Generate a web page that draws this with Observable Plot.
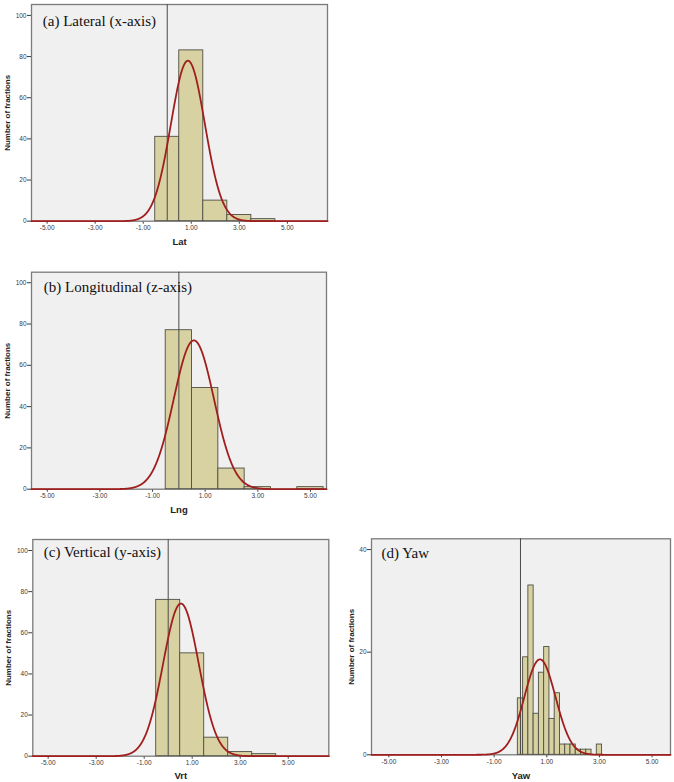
<!DOCTYPE html>
<html><head><meta charset="utf-8">
<script src="https://cdn.jsdelivr.net/npm/d3@7"></script>
<script src="https://cdn.jsdelivr.net/npm/@observablehq/plot@0.6"></script>
<style>
body{margin:0;background:#fff;}
#wrap{position:relative;width:674px;height:782px;overflow:hidden;}
#wrap svg{position:absolute;}
</style></head><body><div id="wrap"></div>
<script>
// ---- data ----
// (a) Lateral
const latBins = [0, 1, 2, 3, 4];
const latCounts = [41, 83, 10, 3, 1];
const latBinWidth = 1;
const latMean = 0.86, latSD = 0.706;
// (b) Longitudinal
const lngBins = [0, 1, 2, 3, 5];
const lngCounts = [77, 49, 10, 1, 1];
const lngBinWidth = 1;
const lngMean = 0.57, lngSD = 0.764;
// (c) Vertical
const vrtBins = [0, 1, 2, 3, 4];
const vrtCounts = [76, 50, 9, 2, 1];
const vrtBinWidth = 1;
const vrtMean = 0.53, vrtSD = 0.742;
// (d) Yaw
const yawBins = [0, 0.2, 0.4, 0.6, 0.8, 1.0, 1.2, 1.4, 1.6, 1.8, 2.0, 2.2, 2.4, 2.6, 2.8, 3.0];
const yawCounts = [11, 19, 33, 8, 16, 21, 7, 12, 2, 2, 2, 1, 1, 1, 0, 2];
const yawBinWidth = 0.2;
const yawMean = 0.74, yawSD = 0.592;

const xTicks = [-5, -3, -1, 1, 3, 5];
const yTicksMain = [0, 20, 40, 60, 80, 100];
const yTicksYaw = [0, 20, 40];

const panelTitles = ["(a) Lateral (x-axis)", "(b) Longitudinal (z-axis)", "(c) Vertical (y-axis)", "(d) Yaw"];
const xLabels = ["Lat", "Lng", "Vrt", "Yaw"];
const yLabel = "Number of fractions";

// ---- styles ----
const bgFill = "#f0f0f0", frameStroke = "#7a7a7a", barFill = "#d8d2a2", barStroke = "#4e4e46",
      curveColor = "#a11e1e", zeroColor = "#4a4a4a";

function panel(o) {
  const rows = o.bins.map((c, i) => ({x1: c - o.bw / 2, x2: c + o.bw / 2, y: o.counts[i]}));
  const n = d3.sum(o.counts);
  const fit = d3.range(o.xDomain[0], o.xDomain[1] + 0.01, 0.01).map(x => ({
    x, y: n * o.bw * Math.exp(-0.5 * ((x - o.mean) / o.sd) ** 2) / (o.sd * Math.sqrt(2 * Math.PI))
  }));
  const svg = Plot.plot({
    width: o.width, height: o.height,
    marginLeft: o.ml, marginRight: o.mr, marginTop: o.mt, marginBottom: o.mb,
    style: {fontFamily: "'Liberation Sans', Arial, sans-serif", fontSize: "6.5px", color: "#3a3a3a", background: "transparent"},
    x: {domain: o.xDomain, ticks: xTicks, tickFormat: d => d.toFixed(2), tickSize: 3, tickPadding: 1.5, label: null},
    y: {domain: o.yDomain, ticks: o.yTicks, tickSize: 4, tickPadding: 1, label: null},
    marks: [
      Plot.frame({fill: bgFill}),
      Plot.frame({stroke: frameStroke, strokeWidth: 1.3}),
      Plot.rectY(rows, {x1: "x1", x2: "x2", y: "y", fill: barFill, stroke: barStroke, strokeWidth: 0.9}),
      Plot.ruleX([0], {stroke: zeroColor, strokeWidth: 1}),
      Plot.line(fit, {x: "x", y: "y", stroke: curveColor, strokeWidth: 1.8}),
      Plot.text([o.title], {frameAnchor: "top-left", dx: o.tdx, dy: o.tdy, textAnchor: "start", lineAnchor: "bottom",
        fontFamily: "'Liberation Serif', 'Times New Roman', serif", fontSize: 15, fill: "#111"}),
      Plot.text([o.xLabel], {frameAnchor: "bottom", dy: o.xldy, lineAnchor: "middle", fontWeight: "bold", fontSize: 9.5, fill: "#222"}),
      Plot.text([yLabel], {frameAnchor: "left", dx: -o.yldx, rotate: -90, lineAnchor: "middle", textAnchor: "middle", fontWeight: "bold", fontSize: 8, fill: "#222"})
    ]
  });
  svg.style.left = o.left + "px";
  svg.style.top = o.top + "px";
  return svg;
}

const wrap = document.getElementById("wrap");
wrap.appendChild(panel({
  bins: latBins, counts: latCounts, bw: latBinWidth, mean: latMean, sd: latSD,
  xDomain: [-5.65, 6.67], yDomain: [0, 105.3], yTicks: yTicksMain,
  left: 0, top: 0, width: 340, height: 250, ml: 31, mr: 13, mt: 4, mb: 29.3,
  title: panelTitles[0], tdx: 11.3, tdy: 21, xLabel: xLabels[0], xldy: 21, yldx: 24
}));
wrap.appendChild(panel({
  bins: lngBins, counts: lngCounts, bw: lngBinWidth, mean: lngMean, sd: lngSD,
  xDomain: [-5.6, 5.61], yDomain: [0, 105.1], yTicks: yTicksMain,
  left: 0, top: 250, width: 340, height: 265, ml: 31, mr: 14, mt: 21.7, mb: 26.3,
  title: panelTitles[1], tdx: 12.3, tdy: 20, xLabel: xLabels[1], xldy: 20.5, yldx: 24.3
}));
wrap.appendChild(panel({
  bins: vrtBins, counts: vrtCounts, bw: vrtBinWidth, mean: vrtMean, sd: vrtSD,
  xDomain: [-5.64, 6.69], yDomain: [0, 105.35], yTicks: yTicksMain,
  left: 0, top: 520, width: 340, height: 262, ml: 32.3, mr: 11.7, mt: 19, mb: 26.3,
  title: panelTitles[2], tdx: 11, tdy: 17.7, xLabel: xLabels[2], xldy: 19.3, yldx: 24
}));
wrap.appendChild(panel({
  bins: yawBins, counts: yawCounts, bw: yawBinWidth, mean: yawMean, sd: yawSD,
  xDomain: [-5.66, 5.7], yDomain: [0, 42.1], yTicks: yTicksYaw,
  left: 334, top: 520, width: 340, height: 262, ml: 37, mr: 4, mt: 18.3, mb: 27.7,
  title: panelTitles[3], tdx: 10, tdy: 19.4, xLabel: xLabels[3], xldy: 20.7, yldx: 20
}));
</script></body></html>
